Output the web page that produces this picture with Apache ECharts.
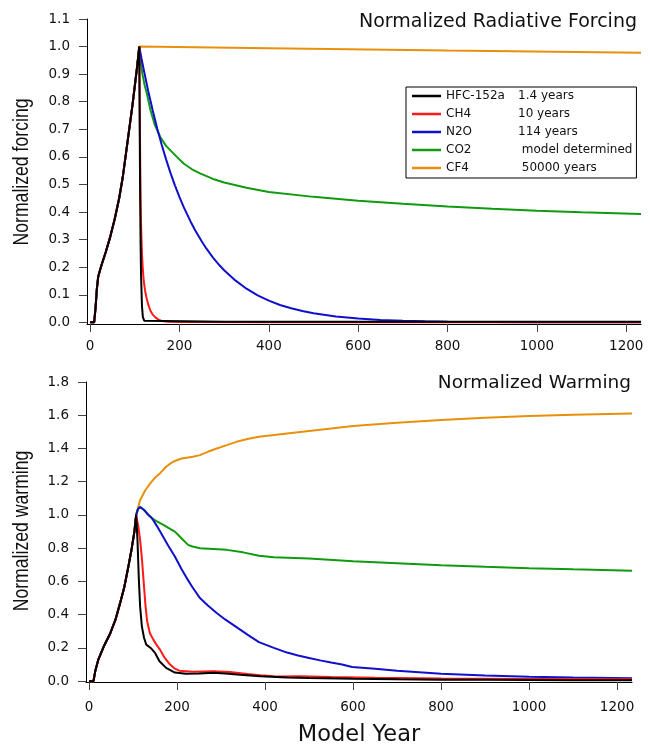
<!DOCTYPE html>
<html>
<head>
<meta charset="utf-8">
<script src="https://cdn.jsdelivr.net/npm/echarts@6/dist/echarts.min.js"></script>
<style>html,body{margin:0;padding:0;background:#fff}#c{width:650px;height:749px}</style>
</head>
<body>
<div id="c"></div>
<script>
// ---------- data ----------
const xTicks = [0, 200, 400, 600, 800, 1000, 1200];
const yTicksTop = [0.0, 0.1, 0.2, 0.3, 0.4, 0.5, 0.6, 0.7, 0.8, 0.9, 1.0, 1.1];
const yTicksBottom = [0.0, 0.2, 0.4, 0.6, 0.8, 1.0, 1.2, 1.4, 1.6, 1.8];

const seriesNames = ['HFC-152a', 'CH4', 'N2O', 'CO2', 'CF4'];
const lifetimes = ['1.4 years', '10 years', '114 years', ' model determined', ' 50000 years'];

// emission ramp (shared by all gases)
const rampYearsTop = [0, 9, 12, 15, 18, 25, 35, 45, 55, 65, 73, 85, 95, 105];
const rampForcing = [0, 0, 0.05, 0.12, 0.165, 0.205, 0.255, 0.31, 0.375, 0.45, 0.526, 0.67, 0.79, 0.925];
const rampYearsBottom = [0, 10, 14, 21, 33, 48, 60, 70, 80, 89, 97, 103];
const rampWarming = [0, 0, 0.06, 0.13, 0.207, 0.287, 0.37, 0.465, 0.565, 0.685, 0.8, 0.9];

// forcing after emissions stop
const hfcFYears = [110, 111, 112, 113, 114, 116, 118, 121, 125, 300, 600, 900, 1233];
const hfcF = [1.0, 0.7, 0.45, 0.28, 0.17, 0.06, 0.02, 0.006, 0.003, 0.002, 0.002, 0.002, 0.002];
const ch4FYears = [110, 111, 112, 113, 114, 116, 118, 120, 123, 126, 130, 135, 140, 146, 153, 160, 175, 200, 400, 800, 1233];
const ch4F = [1.0, 0.8, 0.6, 0.45, 0.35, 0.25, 0.19, 0.15, 0.115, 0.09, 0.065, 0.042, 0.028, 0.018, 0.01, 0.005, 0.002, 0.001, 0.0005, 0.0005, 0.0005];
const n2oFYears = [110, 115, 120, 130, 140, 150, 160, 170, 180, 190, 200, 210, 225, 235, 250, 260, 275, 290, 300, 325, 350, 375, 400, 425, 450, 475, 500, 550, 600, 650, 700, 750, 800, 900, 1000, 1233];
const n2oF = [1.0, 0.957, 0.916, 0.839, 0.769, 0.704, 0.645, 0.591, 0.541, 0.496, 0.454, 0.416, 0.365, 0.334, 0.293, 0.268, 0.235, 0.206, 0.189, 0.152, 0.122, 0.098, 0.079, 0.063, 0.051, 0.041, 0.033, 0.021, 0.014, 0.0087, 0.006, 0.0036, 0.0024, 0.001, 0.0004, 0.0001];
const co2FYears = [110, 113, 117, 122, 127, 135, 145, 157, 170, 182, 194, 210, 228, 246, 275, 300, 350, 400, 500, 600, 700, 800, 900, 1000, 1100, 1233];
const co2F = [1.0, 0.95, 0.9, 0.86, 0.83, 0.77, 0.715, 0.672, 0.64, 0.62, 0.6, 0.575, 0.555, 0.54, 0.52, 0.507, 0.488, 0.473, 0.455, 0.441, 0.43, 0.42, 0.412, 0.405, 0.399, 0.393];
const cf4FYears = [110, 400, 800, 1233];
const cf4F = [1.0, 0.994, 0.986, 0.978];

// warming after emissions stop
const hfcWYears = [107, 110, 113, 116, 120, 125, 130, 140, 150, 160, 175, 195, 220, 250, 283, 310, 343, 389, 450, 500, 600, 700, 800, 900, 1000, 1100, 1234];
const hfcW = [1.0, 0.85, 0.62, 0.45, 0.33, 0.26, 0.22, 0.2, 0.17, 0.12, 0.08, 0.052, 0.044, 0.046, 0.05, 0.046, 0.038, 0.03, 0.022, 0.019, 0.014, 0.011, 0.009, 0.008, 0.007, 0.006, 0.005];
const ch4WYears = [107, 112, 116, 120, 124, 128, 132, 138, 146, 153, 161, 172, 184, 195, 205, 237, 283, 320, 360, 389, 420, 433, 436, 480, 550, 650, 800, 1000, 1234];
const ch4W = [1.0, 0.93, 0.85, 0.74, 0.6, 0.46, 0.36, 0.29, 0.25, 0.22, 0.19, 0.14, 0.1, 0.075, 0.063, 0.056, 0.06, 0.055, 0.043, 0.035, 0.03, 0.028, 0.034, 0.03, 0.025, 0.02, 0.016, 0.013, 0.011];
const n2oWYears = [107, 111, 116, 125, 133, 143, 155, 168, 180, 195, 210, 222, 235, 252, 270, 290, 310, 335, 360, 386, 420, 450, 475, 500, 525, 550, 575, 598, 602, 650, 700, 800, 900, 1000, 1100, 1234];
const n2oW = [1.0, 1.035, 1.048, 1.03, 1.005, 0.98, 0.93, 0.87, 0.815, 0.75, 0.675, 0.62, 0.565, 0.5, 0.455, 0.41, 0.37, 0.325, 0.28, 0.235, 0.2, 0.172, 0.155, 0.14, 0.125, 0.112, 0.1, 0.085, 0.092, 0.075, 0.063, 0.045, 0.034, 0.027, 0.022, 0.018];
const co2WYears = [107, 111, 116, 125, 135, 143, 155, 169, 185, 195, 210, 225, 235, 252, 313, 350, 386, 420, 500, 600, 700, 800, 900, 1000, 1100, 1234];
const co2W = [1.0, 1.035, 1.048, 1.03, 1.0, 0.98, 0.96, 0.94, 0.915, 0.9, 0.86, 0.82, 0.81, 0.8, 0.79, 0.775, 0.755, 0.745, 0.738, 0.722, 0.71, 0.698, 0.688, 0.68, 0.673, 0.665];
const cf4WYears = [107, 116, 128, 139, 150, 161, 175, 185, 195, 210, 236, 252, 270, 290, 313, 335, 360, 386, 450, 500, 600, 700, 800, 900, 1000, 1100, 1234];
const cf4W = [1.0, 1.09, 1.15, 1.19, 1.225, 1.25, 1.29, 1.31, 1.325, 1.34, 1.35, 1.36, 1.38, 1.4, 1.42, 1.44, 1.457, 1.47, 1.49, 1.505, 1.535, 1.555, 1.572, 1.585, 1.595, 1.603, 1.61];

const colors = {'HFC-152a': '#000000', 'CH4': '#ff1a1a', 'N2O': '#1010cc', 'CO2': '#109a10', 'CF4': '#e8900c'};

// ---------- build ----------
function pairs(xs, ys) { return xs.map((x, i) => [x, ys[i]]); }
function withRamp(rx, ry, xs, ys) { return pairs(rx, ry).concat(pairs(xs, ys)); }

const forcing = {
  'HFC-152a': withRamp(rampYearsTop, rampForcing, hfcFYears, hfcF),
  'CH4': withRamp(rampYearsTop, rampForcing, ch4FYears, ch4F),
  'N2O': withRamp(rampYearsTop, rampForcing, n2oFYears, n2oF),
  'CO2': withRamp(rampYearsTop, rampForcing, co2FYears, co2F),
  'CF4': withRamp(rampYearsTop, rampForcing, cf4FYears, cf4F)
};
const warming = {
  'HFC-152a': withRamp(rampYearsBottom, rampWarming, hfcWYears, hfcW),
  'CH4': withRamp(rampYearsBottom, rampWarming, ch4WYears, ch4W),
  'N2O': withRamp(rampYearsBottom, rampWarming, n2oWYears, n2oW),
  'CO2': withRamp(rampYearsBottom, rampWarming, co2WYears, co2W),
  'CF4': withRamp(rampYearsBottom, rampWarming, cf4WYears, cf4W)
};

const drawOrder = ['CF4', 'CO2', 'N2O', 'CH4', 'HFC-152a'];
const series = [];
drawOrder.forEach(n => {
  series.push({name: n, type: 'line', xAxisIndex: 0, yAxisIndex: 0, data: forcing[n], showSymbol: false,
    lineStyle: {color: colors[n], width: 2}, itemStyle: {color: colors[n]}, z: 3});
  series.push({name: n, type: 'line', xAxisIndex: 1, yAxisIndex: 1, data: warming[n], showSymbol: false,
    lineStyle: {color: colors[n], width: 2}, itemStyle: {color: colors[n]}, z: 3});
});

const FONT = 'DejaVu Sans';
const tickLabel = {fontFamily: FONT, fontSize: 13.5, color: '#111'};

function xAxis(gi, max, margin, name) {
  return {
    type: 'value', gridIndex: gi, min: -7, max: max,
    axisLine: {show: true, onZero: false, lineStyle: {color: '#000', width: 1}},
    axisTick: {show: true, length: 8, customValues: xTicks, lineStyle: {color: '#444'}},
    axisLabel: Object.assign({customValues: xTicks, margin: margin, formatter: v => String(v)}, tickLabel),
    splitLine: {show: false},
    name: name, nameLocation: 'middle', nameGap: 42,
    nameTextStyle: {fontFamily: FONT, fontSize: 22.5, color: '#111'}
  };
}
function yAxis(gi, min, max, ticks) {
  return {
    type: 'value', gridIndex: gi, min: min, max: max,
    axisLine: {show: true, onZero: false, lineStyle: {color: '#000', width: 1}},
    axisTick: {show: true, length: 8, customValues: ticks, lineStyle: {color: '#444'}},
    axisLabel: Object.assign({customValues: ticks, margin: 17, formatter: v => v.toFixed(1)}, tickLabel),
    splitLine: {show: false}
  };
}
function yName(text, cx, cy) {
  return {type: 'text', x: cx, y: cy, rotation: Math.PI / 2, scaleX: 0.82, scaleY: 1,
    style: {text: text, fontFamily: '"Liberation Sans", Arial, sans-serif', fontSize: 21.5,
      fill: '#111', align: 'center', verticalAlign: 'middle'}};
}

const option = {
  animation: false,
  backgroundColor: '#fff',
  title: [
    {text: 'Normalized Radiative Forcing', right: 8, top: 8,
     textStyle: {fontFamily: FONT, fontSize: 19, fontWeight: 'normal', color: '#111'}},
    {text: 'Normalized Warming', right: 14, top: 369,
     textStyle: {fontFamily: FONT, fontSize: 18.5, fontWeight: 'normal', color: '#111'}}
  ],
  graphic: [yName('Normalized forcing', 22, 172), yName('Normalized warming', 22, 531)],
  legend: {
    data: seriesNames, orient: 'vertical', left: 406, top: 87,
    selectedMode: false, backgroundColor: '#fff', borderColor: '#000', borderWidth: 1,
    padding: [1, 4, 2, 6], itemGap: 2, itemWidth: 29, itemHeight: 2.5, icon: 'rect',
    formatter: n => '{n|' + n + '}{l|' + lifetimes[seriesNames.indexOf(n)] + '}',
    textStyle: {fontFamily: FONT, fontSize: 12, color: '#111', lineHeight: 16,
      rich: {n: {width: 72, fontFamily: FONT, fontSize: 12, color: '#111', lineHeight: 16},
             l: {fontFamily: FONT, fontSize: 12, color: '#111', lineHeight: 16}}}
  },
  grid: [
    {left: 87, top: 19, width: 554, height: 305},
    {left: 86, top: 382, width: 546, height: 300}
  ],
  xAxis: [xAxis(0, 1233, 15, ''), xAxis(1, 1234, 18, 'Model Year')],
  yAxis: [yAxis(0, -0.006, 1.1, yTicksTop), yAxis(1, -0.005, 1.8, yTicksBottom)],
  series: series
};

const chart = echarts.init(document.getElementById('c'), null, {renderer: 'canvas'});
chart.setOption(option);
</script>
</body>
</html>
